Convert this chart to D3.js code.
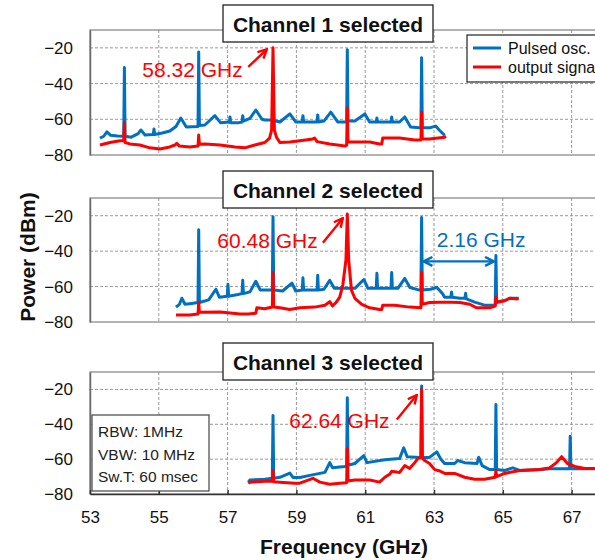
<!DOCTYPE html>
<html>
<head>
<meta charset="utf-8">
<script src="https://cdn.jsdelivr.net/npm/d3@7"></script>
<style>
  body { margin: 0; background: #fff; }
  svg { display: block; font-family: "Liberation Sans", Arial, sans-serif; }
</style>
</head>
<body>
<div id="chart"></div>
<script>
// ---- data ----
const xTicks = [53, 55, 57, 59, 61, 63, 65, 67];
const yTicks = [-20, -40, -60, -80];
const panelTitles = ["Channel 1 selected", "Channel 2 selected", "Channel 3 selected"];
const legendLabels = ["Pulsed osc.", "output signal"];
const infoLines = ["RBW: 1MHz", "VBW: 10 MHz", "Sw.T: 60 msec"];

// channel 1
const ch1Pulsed = [[53.29,-70.5],[53.40,-69.5],[53.49,-67],[53.60,-69],[53.80,-69.4],[53.98,-69.5],[54.0,-31],[54.02,-69.5],[54.20,-70],[54.40,-68],[54.48,-66],[54.60,-68.8],[54.84,-68.5],[54.86,-65.4],[54.88,-68.5],[55.10,-67.7],[55.32,-66.6],[55.50,-64],[55.64,-59.3],[55.80,-64.3],[56.14,-64],[56.16,-22.3],[56.18,-63.5],[56.34,-63.2],[56.63,-58],[56.80,-62],[57.05,-61.5],[57.07,-58.7],[57.09,-62],[57.30,-62],[57.42,-61.5],[57.44,-58],[57.46,-61],[57.65,-59.5],[57.82,-54.8],[58.00,-60],[58.08,-60.4],[58.30,-60.4],[58.52,-61.5],[58.81,-57],[58.98,-61.5],[59.17,-61.5],[59.19,-58],[59.21,-61.5],[59.60,-61.5],[59.62,-57.6],[59.64,-61.5],[59.80,-61],[60.00,-56],[60.20,-61.5],[60.46,-61.5],[60.48,-21],[60.50,-61],[60.70,-61],[60.99,-57],[61.13,-61.5],[61.32,-61.5],[61.34,-59.3],[61.36,-61.5],[61.75,-61.5],[61.77,-58.7],[61.79,-61.5],[62.00,-61.5],[62.15,-58.7],[62.32,-64.3],[62.58,-64.8],[62.62,-64.8],[62.64,-25.6],[62.66,-64.8],[62.87,-64.8],[63.05,-63.8],[63.15,-66],[63.31,-69]];
const ch1Output = [[53.29,-74.4],[53.58,-73],[53.87,-72],[53.98,-72],[54.0,-62],[54.02,-73],[54.16,-73.8],[54.45,-74.4],[54.74,-76],[55.03,-76.6],[55.32,-75.5],[55.47,-74.4],[55.52,-73.5],[55.60,-75],[55.90,-75.5],[56.14,-75],[56.16,-68.8],[56.18,-74],[56.34,-73.8],[56.78,-74.4],[57.22,-75.5],[57.50,-76],[57.79,-74.4],[58.08,-73],[58.22,-70.5],[58.28,-66],[58.32,-20],[58.36,-66],[58.42,-70],[58.52,-73],[58.81,-72.7],[59.10,-72],[59.48,-71],[59.53,-70.5],[59.60,-72.5],[59.97,-73.8],[60.41,-75],[60.46,-74.5],[60.48,-53.7],[60.50,-72.7],[60.70,-72.7],[61.13,-72.7],[61.42,-73.8],[61.48,-73.8],[61.51,-70.5],[62.00,-70.5],[62.44,-71.6],[62.62,-71.6],[62.64,-56],[62.66,-71],[62.87,-71],[63.31,-70],[63.35,-69.5]];

// channel 2
const ch2Pulsed = [[55.50,-71.6],[55.60,-70],[55.67,-66.6],[55.76,-70],[55.95,-69.5],[56.14,-69],[56.16,-27.9],[56.18,-69],[56.45,-67.5],[56.66,-61.5],[56.76,-66],[56.99,-65.5],[57.01,-58.7],[57.03,-65.5],[57.30,-64.5],[57.42,-64],[57.44,-56.5],[57.46,-64],[57.65,-63],[57.82,-57],[57.95,-62],[58.30,-62],[58.32,-20.6],[58.34,-62],[58.60,-62.5],[58.87,-58],[58.98,-62.5],[59.17,-62],[59.19,-55],[59.21,-62],[59.60,-62],[59.62,-53.6],[59.64,-62],[59.80,-61.5],[59.97,-56.5],[60.10,-61],[60.46,-61],[60.48,-61],[60.70,-61],[60.96,-56],[61.08,-61],[61.32,-61],[61.34,-52.5],[61.36,-61],[61.75,-61],[61.77,-52],[61.79,-61],[61.95,-61],[62.15,-55.4],[62.30,-60.5],[62.58,-62],[62.62,-62],[62.64,-21],[62.66,-62],[62.90,-61.5],[63.08,-60.4],[63.25,-64],[63.31,-66],[63.49,-66],[63.51,-63],[63.53,-66],[63.75,-66.6],[63.90,-66.5],[63.92,-63.8],[63.94,-67],[64.18,-68.8],[64.47,-70.5],[64.78,-70.5],[64.80,-42.5],[64.82,-68.5],[65.05,-68],[65.20,-66.6],[65.46,-66.6]];
const ch2Output = [[55.50,-76],[55.90,-76],[56.14,-75.5],[56.16,-68.8],[56.18,-74.5],[56.78,-74.4],[57.36,-75.5],[57.60,-75.5],[57.82,-75],[57.85,-72],[58.08,-72.5],[58.30,-71.5],[58.32,-52],[58.34,-71.5],[58.52,-72],[58.81,-73],[59.10,-72],[59.53,-71.6],[59.83,-70.5],[59.97,-68.5],[60.05,-71],[60.15,-69],[60.26,-66],[60.35,-59],[60.44,-45],[60.48,-19],[60.52,-45],[60.60,-62],[60.70,-66.6],[60.90,-70],[61.13,-72],[61.42,-73],[61.48,-73],[61.51,-70.5],[61.86,-70.5],[62.29,-71.6],[62.62,-72],[62.64,-52],[62.66,-70],[62.87,-69],[63.17,-68.8],[63.50,-68.8],[63.75,-69],[64.04,-70],[64.24,-72],[64.62,-72],[64.78,-71],[64.80,-66],[64.82,-69],[65.05,-68],[65.20,-66.6],[65.46,-67]];

// channel 3
const ch3Pulsed = [[57.60,-73.2],[57.65,-72],[58.08,-71.5],[58.30,-71],[58.32,-35],[58.34,-71],[58.52,-70.4],[58.81,-68],[58.90,-70.5],[59.10,-70.5],[59.39,-69.3],[59.83,-67.6],[59.97,-62],[60.05,-65],[60.12,-64.8],[60.41,-64.2],[60.46,-64],[60.48,-24.8],[60.50,-63.5],[60.70,-62.5],[60.96,-58],[61.05,-62],[61.57,-60.3],[62.00,-59.7],[62.12,-53.5],[62.22,-58.6],[62.58,-59],[62.62,-59],[62.64,-18],[62.66,-59],[62.87,-59],[63.08,-55.8],[63.20,-60],[63.31,-62.5],[63.60,-62.5],[63.69,-60.8],[63.89,-62],[64.25,-62.5],[64.30,-59],[64.40,-63.7],[64.62,-66],[64.78,-66],[64.80,-28.7],[64.82,-66],[65.05,-66.5],[65.29,-65],[65.49,-66.5],[66.13,-66],[66.36,-65.5],[66.70,-65.5],[66.94,-65.5],[66.96,-46.8],[66.98,-65.5],[67.38,-65.5],[68.0,-65.5]];
const ch3Output = [[57.60,-73.8],[57.65,-73.2],[58.08,-72.7],[58.30,-72.7],[58.32,-66.5],[58.34,-73],[58.52,-73.2],[58.95,-73.8],[59.10,-73.8],[59.48,-71],[59.68,-73.2],[59.97,-74.4],[60.26,-73.8],[60.46,-73.5],[60.48,-54],[60.50,-72.5],[60.70,-72],[61.13,-72],[61.42,-73.2],[61.57,-70.4],[61.71,-68.7],[61.77,-67],[62.00,-67.6],[62.15,-63.7],[62.29,-65.4],[62.44,-62],[62.53,-59.7],[62.62,-59],[62.64,-20],[62.66,-59.5],[62.73,-60.8],[62.87,-62.5],[63.02,-66],[63.17,-66.8],[63.31,-68.2],[63.60,-68.2],[63.89,-70.4],[64.18,-71.5],[64.47,-71.5],[64.78,-70.4],[64.80,-66.5],[64.82,-70],[65.05,-68.2],[65.49,-66.5],[66.07,-66],[66.36,-65],[66.56,-62],[66.71,-58.6],[66.88,-62.5],[67.09,-64.2],[67.38,-65.4],[68.0,-65.4]];

// ---- layout ----
const W = 595, H = 560;
const blue = "#0070C0", red = "#FF0000";
const panels = [
  { top: 30, bottom: 155, titleY: 5, pulsed: ch1Pulsed, output: ch1Output,
    label: "58.32 GHz", labelAt: [57.44, -36.5], arrow: [[57.60, -30.7], [58.14, -20.8]] },
  { top: 198, bottom: 322, titleY: 171, pulsed: ch2Pulsed, output: ch2Output,
    label: "60.48 GHz", labelAt: [59.62, -38.5], arrow: [[59.77, -35.2], [60.35, -21.4]] },
  { top: 372, bottom: 494, titleY: 343, pulsed: ch3Pulsed, output: ch3Output,
    label: "62.64 GHz", labelAt: [61.71, -42.3], arrow: [[61.92, -37.2], [62.50, -23.2]] }
];

const svg = d3.select("#chart").append("svg")
  .attr("width", W).attr("height", H);

const defs = svg.append("defs");
function vMarker(id, color, orient) {
  defs.append("marker")
    .attr("id", id)
    .attr("viewBox", "0 0 10 10")
    .attr("refX", 9).attr("refY", 5)
    .attr("markerWidth", 11).attr("markerHeight", 11)
    .attr("markerUnits", "userSpaceOnUse")
    .attr("orient", orient)
    .append("path")
    .attr("d", "M1,1 L9,5 L1,9")
    .attr("fill", "none")
    .attr("stroke", color)
    .attr("stroke-width", 2.2);
}
vMarker("arrRed", red, "auto");
vMarker("arrBlueEnd", blue, "auto");
vMarker("arrBlueStart", blue, "auto-start-reverse");

const x = d3.scaleLinear().domain([53, 68]).range([90, 606]);

panels.forEach(function (p, i) {
  const y = d3.scaleLinear().domain([-80, -10]).range([p.bottom, p.top]);
  const g = svg.append("g");

  // grid
  g.append("g")
    .selectAll("line")
    .data(xTicks.slice(1))
    .join("line")
    .attr("x1", d => x(d)).attr("x2", d => x(d))
    .attr("y1", p.top).attr("y2", p.bottom)
    .attr("stroke", "#9a9a9a").attr("stroke-dasharray", "3,2");
  g.append("g")
    .selectAll("line")
    .data(yTicks.slice(0, 3))
    .join("line")
    .attr("x1", x(53)).attr("x2", x(68))
    .attr("y1", d => y(d)).attr("y2", d => y(d))
    .attr("stroke", "#9a9a9a").attr("stroke-dasharray", "3,2");

  // frame
  g.append("rect")
    .attr("x", x(53)).attr("y", p.top)
    .attr("width", x(68) - x(53)).attr("height", p.bottom - p.top)
    .attr("fill", "none").attr("stroke", "#8a8a8a").attr("stroke-width", 1.3);

  // y axis
  const yAxis = g.append("g")
    .attr("transform", "translate(" + x(53) + ",0)")
    .call(d3.axisLeft(y).tickValues(yTicks).tickSize(0).tickPadding(17));
  yAxis.select(".domain").attr("stroke", "#6a6a6a").attr("stroke-width", 1.5);
  yAxis.selectAll("text")
    .style("font-family", "Liberation Sans, Arial, sans-serif")
    .style("font-size", "17px").attr("fill", "#111");

  if (i === 2) {
    const xAxis = g.append("g")
      .attr("transform", "translate(0," + p.bottom + ")")
      .call(d3.axisBottom(x).tickValues(xTicks).tickSizeInner(-4).tickSizeOuter(0).tickPadding(17));
    xAxis.select(".domain").attr("stroke", "#333").attr("stroke-width", 1.5);
    xAxis.selectAll(".tick line").attr("stroke", "#333").attr("stroke-width", 1.5);
    xAxis.selectAll("text")
      .style("font-family", "Liberation Sans, Arial, sans-serif")
      .style("font-size", "17px").attr("fill", "#111");
  }

  // traces
  const line = d3.line().x(d => x(d[0])).y(d => y(d[1]));
  g.append("path").datum(p.pulsed)
    .attr("d", line).attr("fill", "none")
    .attr("stroke", blue).attr("stroke-width", 3).attr("stroke-linejoin", "round");
  g.append("path").datum(p.output)
    .attr("d", line).attr("fill", "none")
    .attr("stroke", red).attr("stroke-width", 3).attr("stroke-linejoin", "round");

  // peak label + arrow
  g.append("text")
    .attr("x", x(p.labelAt[0])).attr("y", y(p.labelAt[1]))
    .attr("text-anchor", "end")
    .style("font-size", "21px").attr("fill", red)
    .text(p.label);
  g.append("line")
    .attr("x1", x(p.arrow[0][0])).attr("y1", y(p.arrow[0][1]))
    .attr("x2", x(p.arrow[1][0])).attr("y2", y(p.arrow[1][1]))
    .attr("stroke", red).attr("stroke-width", 2.4)
    .attr("marker-end", "url(#arrRed)");

  if (i === 1) {
    g.append("line")
      .attr("x1", x(62.64) + 2).attr("x2", x(64.80) - 2)
      .attr("y1", y(-45.8)).attr("y2", y(-45.8))
      .attr("stroke", blue).attr("stroke-width", 2.4)
      .attr("marker-start", "url(#arrBlueStart)")
      .attr("marker-end", "url(#arrBlueEnd)");
    g.append("text")
      .attr("x", x(63.08)).attr("y", y(-37.4))
      .style("font-size", "21px").attr("fill", blue)
      .text("2.16 GHz");
  }

  if (i === 2) {
    const box = g.append("g").attr("transform", "translate(92,415)");
    box.append("rect")
      .attr("width", 117).attr("height", 76)
      .attr("fill", "#fff").attr("stroke", "#444").attr("stroke-width", 1.2);
    box.selectAll("text")
      .data(infoLines)
      .join("text")
      .attr("x", 6).attr("y", (d, k) => 22 + k * 22.5)
      .style("font-size", "15.5px").attr("fill", "#222")
      .text(d => d);
  }

  // title box
  const t = g.append("g").attr("transform", "translate(223," + p.titleY + ")");
  t.append("rect")
    .attr("width", 210).attr("height", 37)
    .attr("fill", "#fff").attr("stroke", "#222").attr("stroke-width", 1.3);
  t.append("text")
    .attr("x", 105).attr("y", 27)
    .attr("text-anchor", "middle")
    .style("font-size", "21px").style("font-weight", "bold").attr("fill", "#111")
    .text(panelTitles[i]);
});

// legend (runs past the right edge, as in the source figure)
const leg = svg.append("g").attr("transform", "translate(467,35)");
leg.append("rect")
  .attr("width", 150).attr("height", 47)
  .attr("fill", "#fff").attr("stroke", "#222").attr("stroke-width", 1.2);
leg.selectAll("line")
  .data([blue, red])
  .join("line")
  .attr("x1", 6).attr("x2", 34)
  .attr("y1", (d, k) => 13 + k * 19).attr("y2", (d, k) => 13 + k * 19)
  .attr("stroke", d => d).attr("stroke-width", 3);
leg.selectAll("text")
  .data(legendLabels)
  .join("text")
  .attr("x", 41).attr("y", (d, k) => 19 + k * 19)
  .style("font-size", "16px").attr("fill", "#111")
  .text(d => d);

// axis titles
svg.append("text")
  .attr("x", 344).attr("y", 554)
  .attr("text-anchor", "middle")
  .style("font-size", "21px").style("font-weight", "bold").attr("fill", "#111")
  .text("Frequency (GHz)");
svg.append("text")
  .attr("transform", "translate(35,257) rotate(-90)")
  .attr("text-anchor", "middle")
  .style("font-size", "21px").style("font-weight", "bold").attr("fill", "#111")
  .text("Power (dBm)");
</script>
</body>
</html>
